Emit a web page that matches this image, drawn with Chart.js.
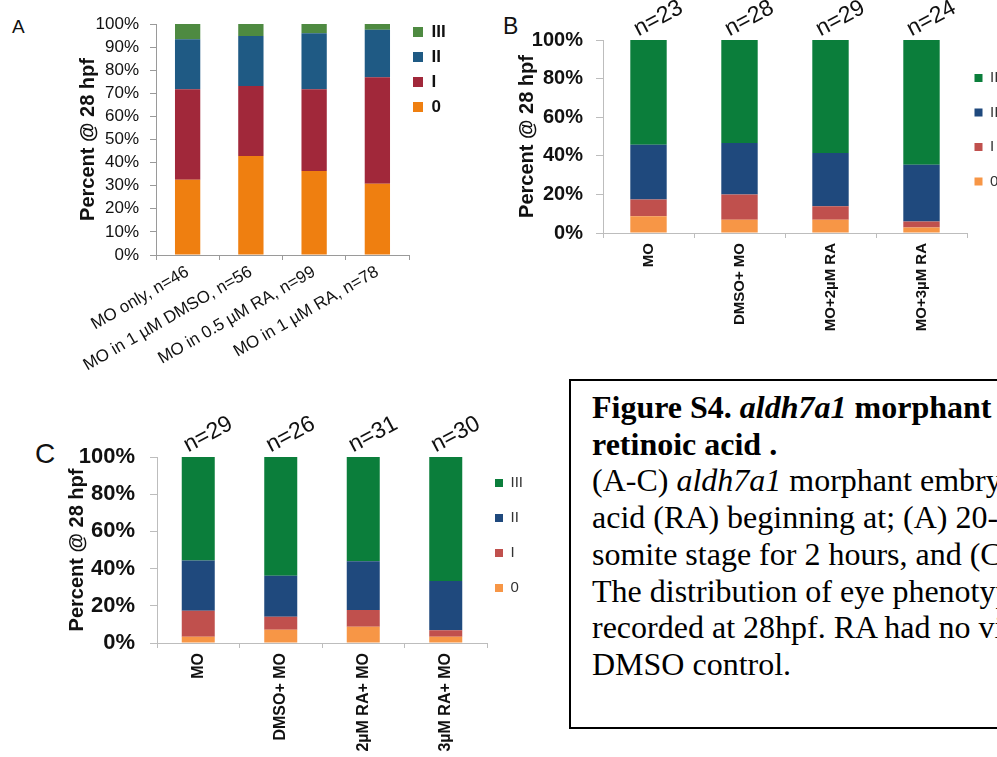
<!DOCTYPE html>
<html>
<head>
<meta charset="utf-8">
<script src="https://cdn.jsdelivr.net/npm/chart.js@4.4.1/dist/chart.umd.min.js"></script>
<style>
  body { margin: 0; width: 997px; height: 757px; overflow: hidden; position: relative; background: #fff;
         font-family: Arial, "Liberation Sans", sans-serif; }
  canvas, .letter, #caption { position: absolute; }
  .letter { color: #111; line-height: 1; }
  #caption { left: 569px; top: 379px; width: 520px; height: 350px; box-sizing: border-box;
             border: 2px solid #000; padding: 8px 0 0 21px; white-space: nowrap; color: #000;
             font-family: "Times New Roman", "Liberation Serif", serif; font-size: 32px; line-height: 36.7px; }
</style>
</head>
<body>
<div class="letter" style="left:12px; top:17px; font-size:19px;">A</div>
<div class="letter" style="left:503px; top:15px; font-size:23px;">B</div>
<div class="letter" style="left:35px; top:440px; font-size:28px;">C</div>

<canvas id="chartA" width="500" height="380" style="left:0; top:0;"></canvas>
<canvas id="chartB" width="520" height="375" style="left:500px; top:0;"></canvas>
<canvas id="chartC" width="560" height="377" style="left:0; top:380px;"></canvas>

<div id="caption"><b>Figure S4. <i>aldh7a1</i> morphant</b><br><b>retinoic acid .</b><br>(A-C) <i>aldh7a1</i> morphant embryos<br>acid (RA) beginning at; (A) 20-somite<br>somite stage for 2 hours, and (C)<br>The distribution of eye phenotypes<br>recorded at 28hpf. RA had no visible<br>DMSO control.</div>

<script>
// Fenotipe mata (urutan tumpukan dari bawah ke atas)
const seriesNames = ['0', 'I', 'II', 'III'];

// Panel A
const categoriesA = ['MO only, n=46', 'MO in 1 µM DMSO, n=56', 'MO in 0.5 µM RA, n=99', 'MO in 1 µM RA, n=78'];
const a0 = [32.6, 42.9, 36.4, 30.8];
const aI = [39.1, 30.3, 35.4, 46.2];
const aII = [21.7, 21.6, 24.2, 20.5];
const aIII = [6.6, 5.2, 4.0, 2.5];
const colorsA = ['#EF7F10', '#A1283A', '#1F5A84', '#4E8A41'];

// Panel B
const categoriesB = ['MO', 'DMSO+ MO', 'MO+2µM RA', 'MO+3µM RA'];
const countsB = ['n=23', 'n=28', 'n=29', 'n=24'];
const b0 = [8.7, 6.9, 6.9, 2.9];
const bI = [8.7, 13.1, 6.9, 3.1];
const bII = [28.3, 26.6, 27.6, 29.3];
const bIII = [54.3, 53.4, 58.6, 64.7];

// Panel C
const categoriesC = ['MO', 'DMSO+ MO', '2µM RA+ MO', '3µM RA+ MO'];
const countsC = ['n=29', 'n=26', 'n=31', 'n=30'];
const c0 = [3.4, 7.1, 8.8, 3.4];
const cI = [13.9, 7.0, 8.9, 3.4];
const cII = [27.0, 22.0, 26.2, 26.6];
const cIII = [55.7, 63.9, 56.1, 66.6];

const colorsBC = ['#F79646', '#C0504D', '#1F497D', '#0B7E3B'];

Chart.defaults.font.family = 'Arial, "Liberation Sans", sans-serif';
Chart.defaults.color = '#111';

// Memindahkan legenda ke posisi tetap (piksel kanvas)
const legendPos = {
    id: 'legendPos',
    afterLayout(chart, args, opts) {
        const lg = chart.legend;
        if (!lg) return;
        lg.left = opts.x; lg.right = opts.x + lg.width;
        lg.top = opts.y; lg.bottom = opts.y + lg.height;
    }
};

function makeDatasets(series, colors) {
    return series.map((values, i) => ({
        label: seriesNames[i],
        data: values,
        backgroundColor: colors[i],
        borderWidth: 0,
        xAxisID: 'x',
        barPercentage: 0.4,
        categoryPercentage: 1
    }));
}

// Grafik A
new Chart(document.getElementById('chartA'), {
    type: 'bar',
    data: { labels: categoriesA, datasets: makeDatasets([a0, aI, aII, aIII], colorsA) },
    plugins: [legendPos],
    options: {
        responsive: false, animation: false, events: [],
        layout: { padding: { top: 24, right: 91, left: 0, bottom: 0 } },
        scales: {
            x: {
                stacked: true,
                grid: { offset: true, drawOnChartArea: false, tickLength: 5, color: '#9A9A9A' },
                border: { color: '#9A9A9A' },
                ticks: { minRotation: 30, maxRotation: 30, autoSkip: false, font: { size: 17 }, padding: 2 },
                afterFit: s => { s.height = 125; }
            },
            y: {
                stacked: true, min: 0, max: 100,
                grid: { drawOnChartArea: false, tickLength: 6, color: '#9A9A9A' },
                border: { color: '#9A9A9A' },
                ticks: { stepSize: 10, autoSkip: false, callback: v => v + '%', font: { size: 17 }, padding: 11 },
                title: { display: true, text: 'Percent @ 28 hpf', font: { size: 20, weight: 'bold' }, padding: { top: 76 } },
                afterFit: s => { s.width = 156; }
            }
        },
        plugins: {
            legend: {
                position: 'chartArea', align: 'start', reverse: true,
                labels: { boxWidth: 10, boxHeight: 10, padding: 8, font: { size: 17, weight: 'bold' }, color: '#111' }
            },
            tooltip: { enabled: false },
            legendPos: { x: 405, y: 15.5 }
        }
    }
});

// Opsi untuk grafik B dan C (bentuknya sama, ukurannya berbeda)
function panelOptions(g) {
    return {
        responsive: false, animation: false, events: [],
        layout: { padding: { top: 0, right: g.right, left: 0, bottom: 0 } },
        scales: {
            x: {
                stacked: true,
                grid: { offset: true, drawOnChartArea: false, tickLength: 5, color: '#BDBDBD' },
                border: { color: '#BDBDBD' },
                ticks: { minRotation: 90, maxRotation: 90, autoSkip: false, font: { size: g.xFont, weight: 'bold' }, padding: 5 },
                afterFit: s => { s.height = g.xHeight; }
            },
            xTop: {
                type: 'category', position: 'top', labels: g.counts, offset: true,
                grid: { display: false, drawTicks: false },
                border: { display: false },
                ticks: { minRotation: 28, maxRotation: 28, autoSkip: false, font: { size: 23 }, padding: g.nPad },
                afterFit: s => { s.height = g.top; }
            },
            y: {
                stacked: true, min: 0, max: 100,
                grid: { drawOnChartArea: false, tickLength: 7, color: '#BDBDBD' },
                border: { color: '#BDBDBD' },
                ticks: { stepSize: 20, autoSkip: false, callback: v => v + '%', font: { size: g.yFont, weight: 'bold' }, padding: g.yPad },
                title: { display: true, text: 'Percent @ 28 hpf', font: { size: 20, weight: 'bold' }, padding: { top: g.titlePad } },
                afterFit: s => { s.width = g.yWidth; }
            }
        },
        plugins: {
            legend: {
                position: 'chartArea', align: 'start', reverse: true,
                labels: { boxWidth: 8, boxHeight: 8, padding: g.legendPad, font: { size: 15 }, color: '#333' }
            },
            tooltip: { enabled: false },
            legendPos: { x: g.legendX, y: g.legendY }
        }
    };
}

// Grafik B
new Chart(document.getElementById('chartB'), {
    type: 'bar',
    data: { labels: categoriesB, datasets: makeDatasets([b0, bI, bII, bIII], colorsBC) },
    plugins: [legendPos],
    options: panelOptions({
        counts: countsB, right: 53, top: 40, xHeight: 142, yWidth: 103, xFont: 15, nPad: -3,
        yFont: 20, yPad: 13, titlePad: 15, legendPad: 19.5, legendX: 455, legendY: 51
    })
});

// Grafik C
new Chart(document.getElementById('chartC'), {
    type: 'bar',
    data: { labels: categoriesC, datasets: makeDatasets([c0, cI, cII, cIII], colorsBC) },
    plugins: [legendPos],
    options: panelOptions({
        counts: countsC, right: 73, top: 77, xHeight: 114, yWidth: 157, xFont: 16, nPad: -2,
        yFont: 22, yPad: 15, titlePad: 65, legendPad: 20, legendX: 475, legendY: 75.5
    })
});
</script>
</body>
</html>
